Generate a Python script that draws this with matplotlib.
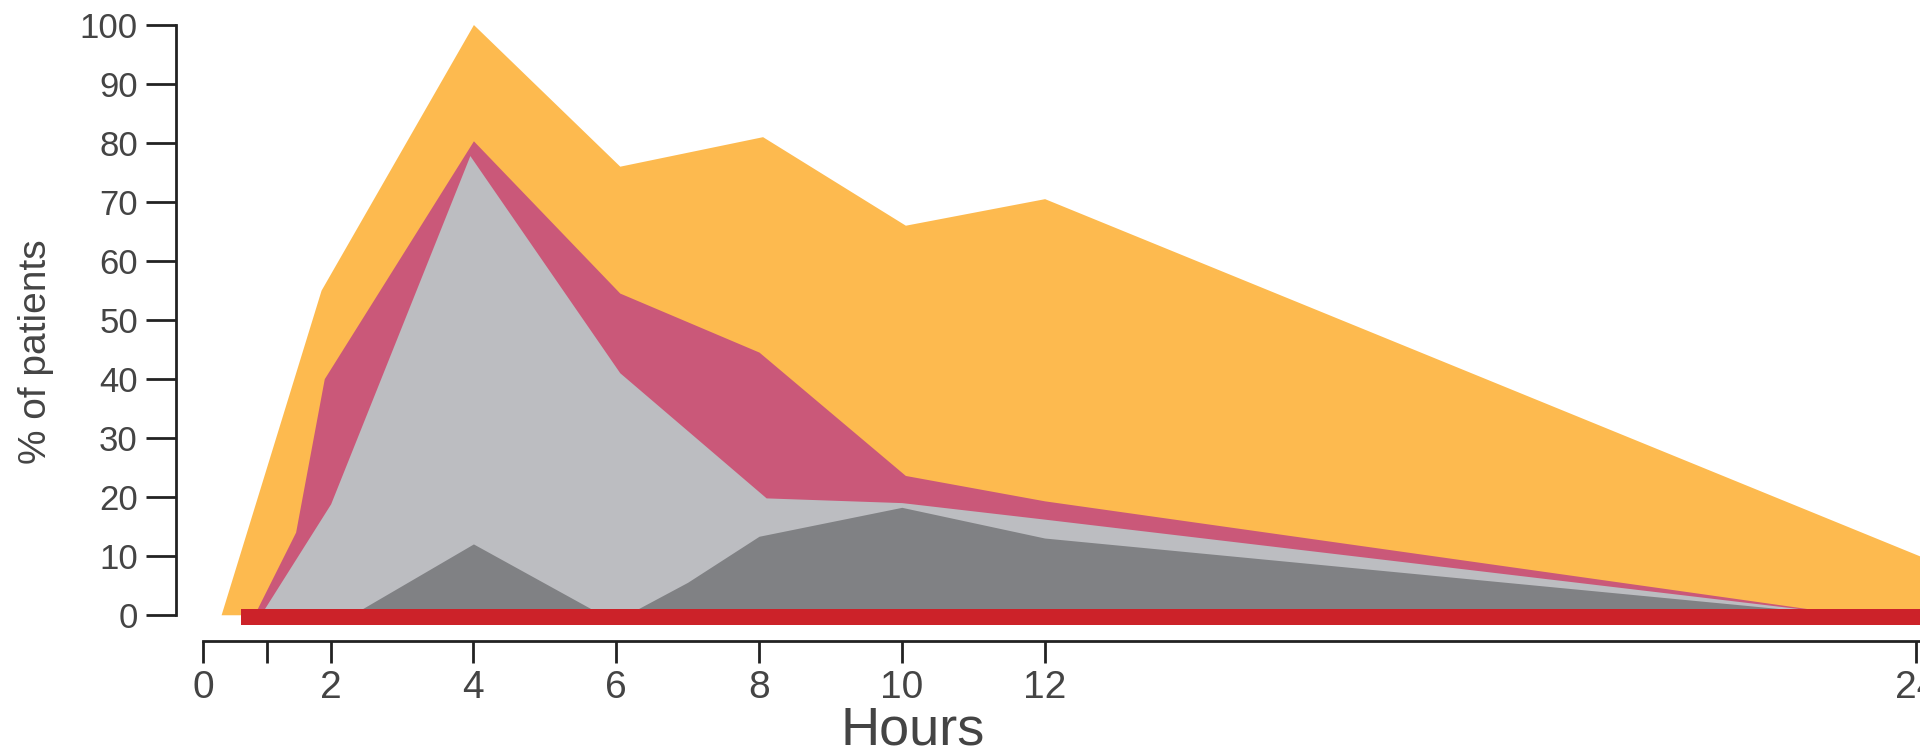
import matplotlib
matplotlib.use("Agg")
import matplotlib.pyplot as plt
import numpy as np

# values (hours, % of patients)
orange_hours = [0.28, 1.85, 4, 6.05, 8.05, 10.05, 12, 24.1]
orange_pct = [0, 55, 100, 76, 81, 66, 70.5, 9.7]

pink_hours = [0.8, 1.45, 1.9, 4, 6.05, 8, 10.05, 12, 23.1]
pink_pct = [0, 14, 40, 80.3, 54.5, 44.5, 23.6, 19.3, 0]

light_hours = [0.9, 2, 3.95, 6.05, 8.1, 10, 12, 23.1]
light_pct = [0, 18.8, 77.8, 41, 19.8, 19, 16.2, 0]

dark_hours = [2.3, 4, 5.8, 6.15, 7, 8, 10, 12, 23.0]
dark_pct = [0, 12, 0, 0, 5.5, 13.3, 18.2, 13, 0]

# red band along the baseline
bar_start, bar_end = 0.6, 24.1
bar_bottom, bar_top = -1.7, 1.0

hour_ticks = [0, 1, 2, 4, 6, 8, 10, 12, 24]
hour_labels = ["0", "", "2", "4", "6", "8", "10", "12", "24"]
pct_ticks = list(range(0, 101, 10))

# the original time axis is hand drawn: the first two hours are squeezed
# a little and the 12-24 stretch is slightly wider
_h = [-2, 0, 2, 12, 24, 26]
_w = [-1.568, 0.216, 2, 12, 24.21, 26.245]


def warp(x):
    return np.interp(x, _h, _w)


def unwarp(x):
    return np.interp(x, _w, _h)


plt.rcParams["font.family"] = ["Liberation Sans", "DejaVu Sans"]

fig = plt.figure(figsize=(19.2, 7.53), dpi=100)
ax = fig.add_axes([0.0917, 0.1491, 0.9083, 0.834])
ax.set_xscale("function", functions=(warp, unwarp))

layers = [
    (orange_hours, orange_pct, "#FDBA4F"),
    (pink_hours, pink_pct, "#CA5879"),
    (light_hours, light_pct, "#BCBDC1"),
    (dark_hours, dark_pct, "#808184"),
]
for hours, pct, color in layers:
    ax.fill_between(hours, 0, pct, color=color, linewidth=0)

ax.fill_between([bar_start, bar_end], bar_bottom, bar_top, color="#CC2229", linewidth=0)

ax.set_xlim(-0.427, 24.05)
ax.set_ylim(-4.4, 102)

for side in ["top", "right"]:
    ax.spines[side].set_visible(False)
ax.spines["left"].set_bounds(0, 100)
ax.spines["bottom"].set_bounds(0, 24.05)
for side in ["left", "bottom"]:
    ax.spines[side].set_linewidth(2)
    ax.spines[side].set_color("#222222")

ax.set_xticks(hour_ticks)
ax.set_xticklabels(hour_labels)
ax.xaxis.set_minor_locator(matplotlib.ticker.NullLocator())
ax.set_yticks(pct_ticks)
ax.tick_params(axis="x", direction="out", length=16, width=2, pad=5,
               labelsize=28, labelcolor="#444444", color="#222222")
ax.tick_params(axis="y", direction="out", length=21.5, width=2, pad=6,
               labelsize=25, labelcolor="#444444", color="#222222")

ax.set_xlabel("Hours", fontsize=39, color="#444444", va="baseline")
ax.xaxis.set_label_coords(0.4226, -0.1645)
ax.set_ylabel("% of patients", fontsize=28, color="#444444", va="center")
ax.yaxis.set_label_coords(-0.0803, 0.461)

fig.savefig("out.png", dpi=100)
